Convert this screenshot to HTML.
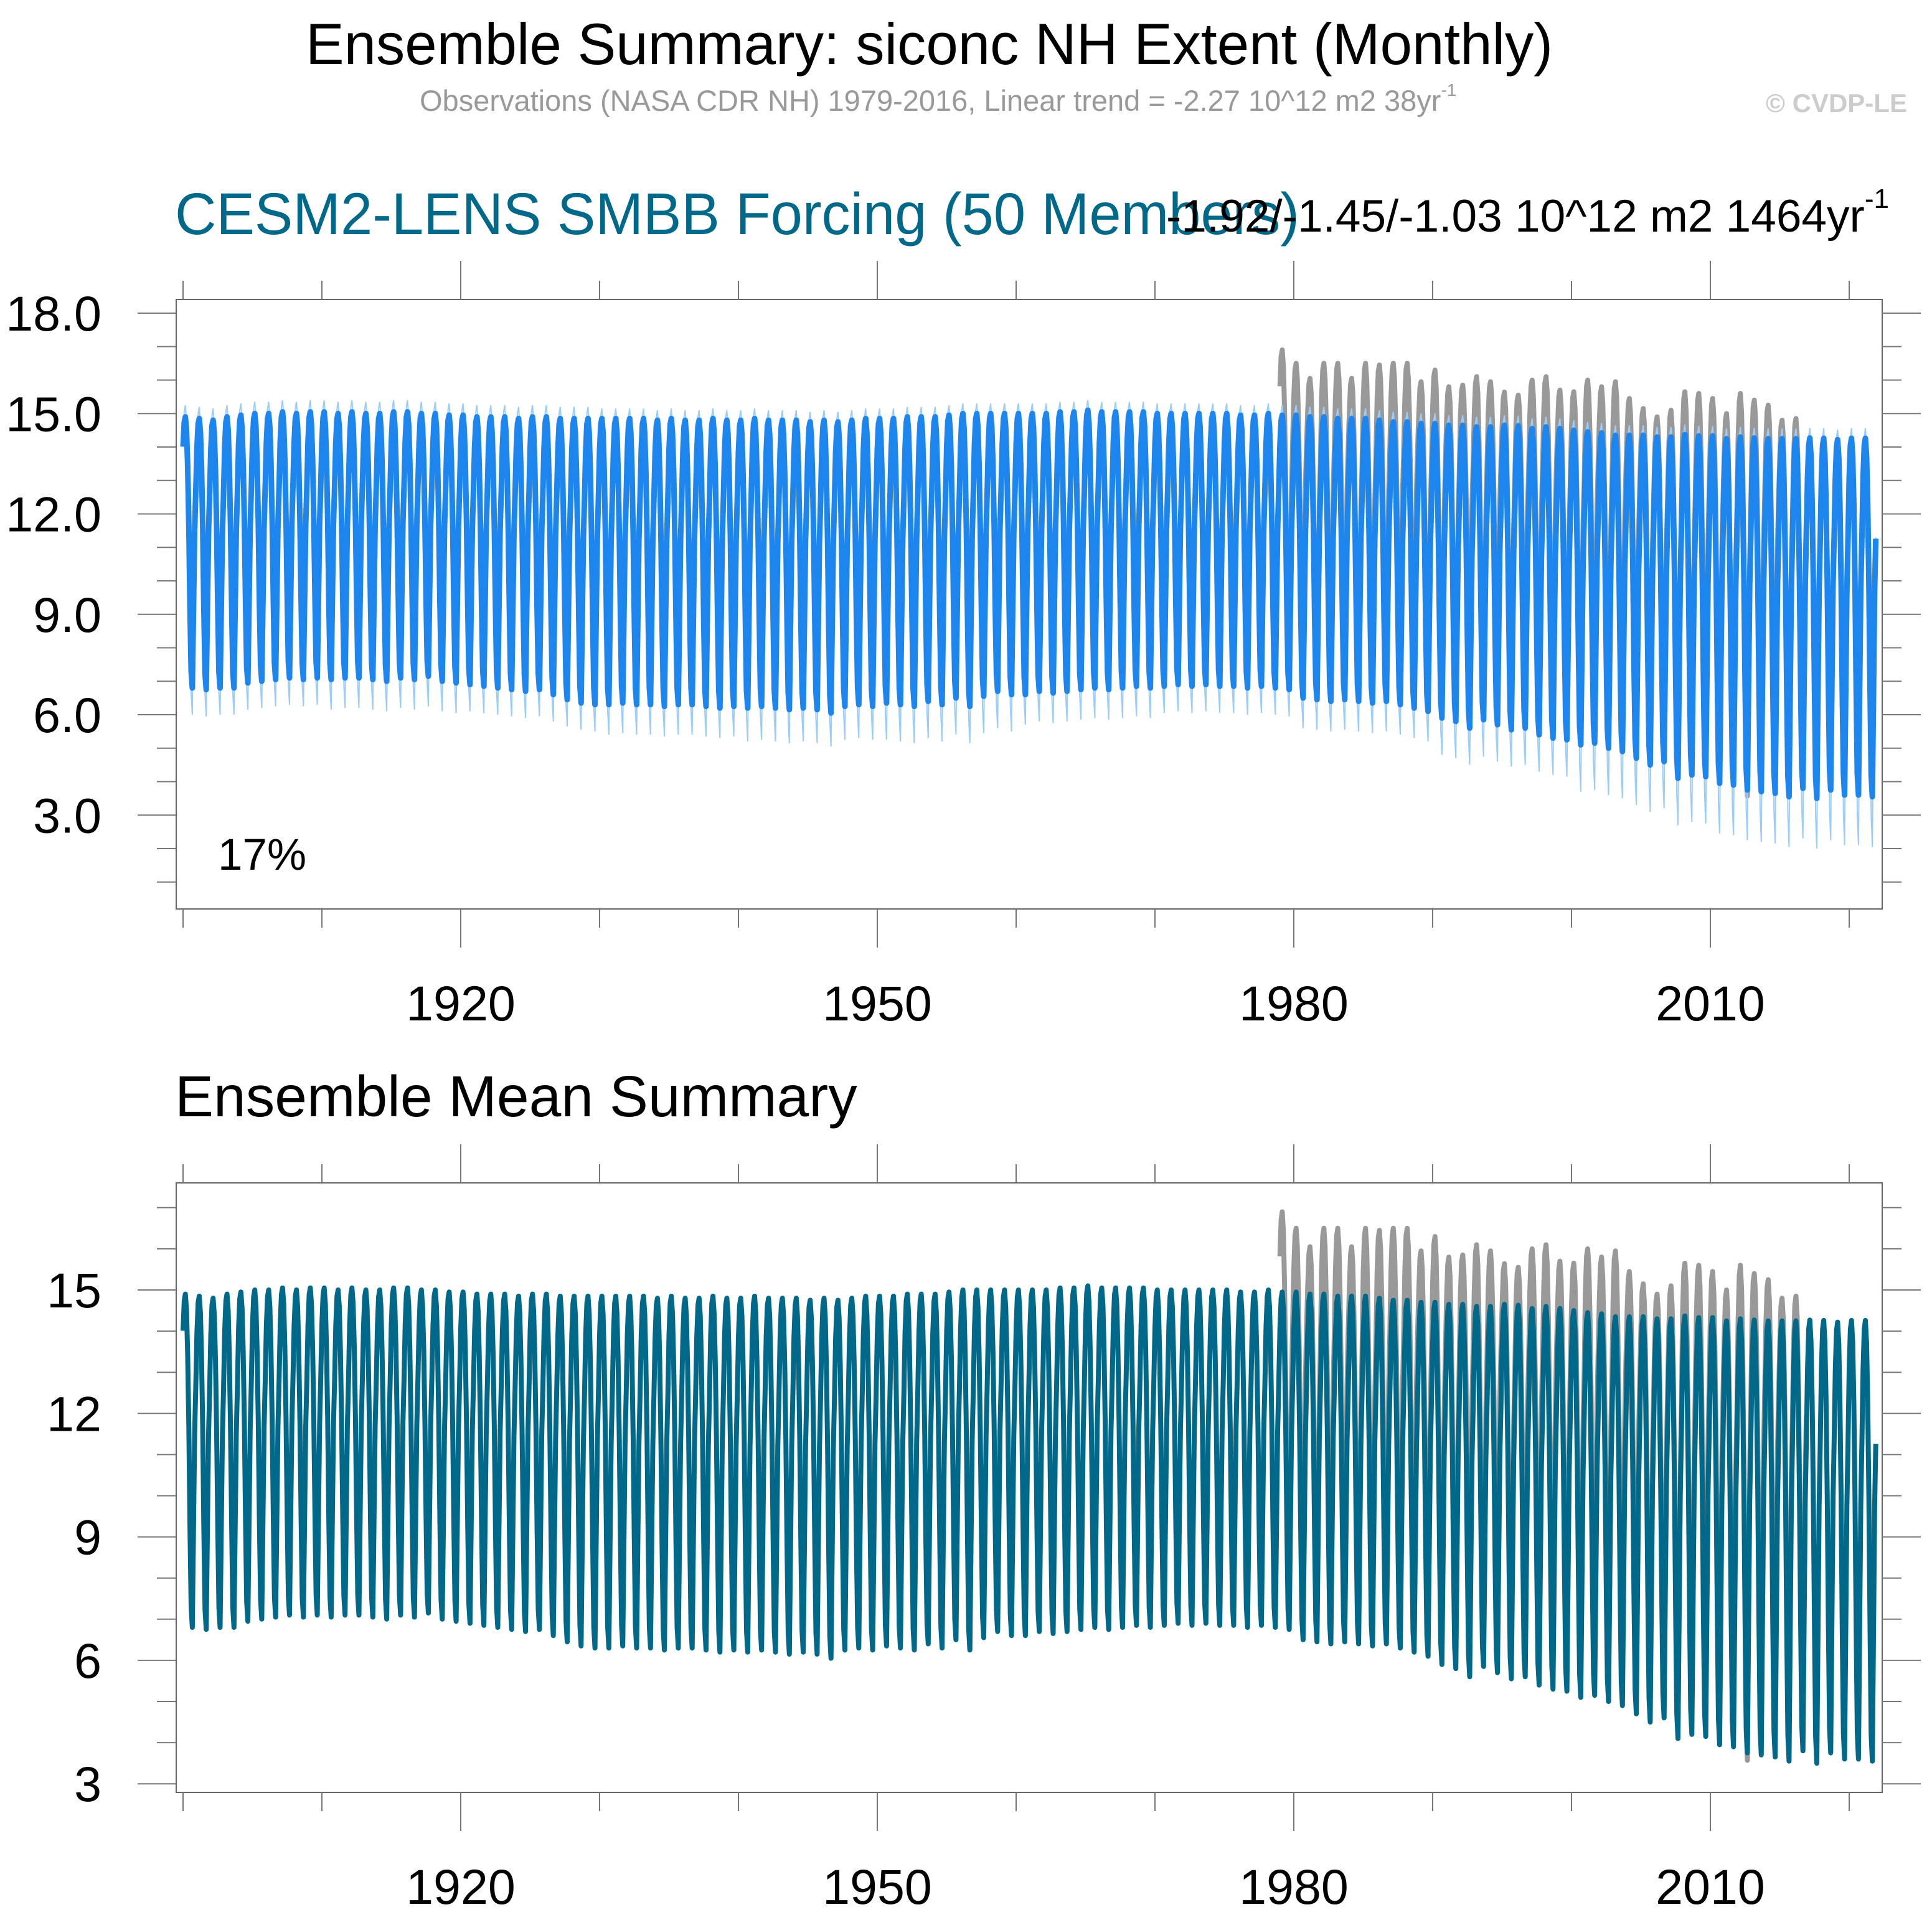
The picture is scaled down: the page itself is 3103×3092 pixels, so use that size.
<!DOCTYPE html>
<html><head><meta charset="utf-8">
<style>
html,body{margin:0;padding:0;background:#fff;}
svg{display:block;font-family:"Liberation Sans",Arial,sans-serif;}
</style></head>
<body>
<svg id="fig" width="3103" height="3092" viewBox="0 0 3103 3092" xmlns="http://www.w3.org/2000/svg">
<rect width="3103" height="3092" fill="#fff"/>
<text x="491" y="103" font-size="94" fill="#000" textLength="2003" lengthAdjust="spacingAndGlyphs">Ensemble Summary: siconc NH Extent (Monthly)</text>
<text x="674" y="178" font-size="47" fill="#999">Observations (NASA CDR NH) 1979-2016, Linear trend = -2.27 10^12 m2 38yr<tspan font-size="28" dy="-24">-1</tspan></text>
<text x="2836" y="180" font-size="42" font-weight="bold" fill="#ccc">© CVDP-LE</text>
<text x="281" y="376" font-size="95" fill="#00698a" textLength="1806" lengthAdjust="spacingAndGlyphs">CESM2-LENS SMBB Forcing (50 Members)</text>
<text x="1873" y="372" font-size="73" fill="#000">-1.92/-1.45/-1.03 10^12 m2 1464yr<tspan font-size="44" dy="-38">-1</tspan></text>
<text x="281" y="1793" font-size="93" fill="#000">Ensemble Mean Summary</text>
<g id="p1"></g>
<g id="p2"></g>
<text x="350" y="1397" font-size="71" fill="#000">17%</text>
</svg>
<script>
// ---- data ----
const years = []; for (let y = 1900; y <= 2021; y++) years.push(y);
const modelMax = [
14.9,14.85,14.8,14.9,14.95,15.0,15.0,15.05,15.0,15.05,
15.05,15.0,15.05,15.0,15.0,15.05,15.05,15.0,15.0,14.95,
14.95,14.9,14.9,14.9,14.85,14.9,14.9,14.85,14.85,14.85,
14.85,14.85,14.85,14.85,14.8,14.85,14.8,14.8,14.85,14.8,
14.8,14.85,14.8,14.8,14.8,14.75,14.8,14.75,14.8,14.85,
14.85,14.85,14.9,14.9,14.9,14.95,15.0,15.0,15.0,15.0,
15.0,15.0,15.0,15.05,15.05,15.1,15.05,15.05,15.05,15.05,
15.0,15.0,15.0,15.0,15.0,15.0,14.95,14.95,15.0,14.95,
14.95,14.9,14.9,14.85,14.85,14.85,14.8,14.75,14.75,14.7,
14.7,14.65,14.65,14.6,14.6,14.65,14.63,14.55,14.6,14.55,
14.5,14.45,14.42,14.35,14.35,14.35,14.3,14.3,14.37,14.33,
14.33,14.25,14.3,14.27,14.25,14.25,14.25,14.27,14.26,14.22,
14.26,14.26];
const modelMin = [
6.8,6.75,6.8,6.8,6.95,7.0,7.05,7.1,7.05,7.1,
7.05,7.1,7.1,7.05,7.0,7.1,7.05,7.15,7.0,6.95,
6.9,6.85,6.8,6.75,6.7,6.75,6.6,6.45,6.35,6.3,
6.3,6.35,6.3,6.3,6.25,6.3,6.3,6.25,6.2,6.25,
6.2,6.25,6.2,6.15,6.2,6.15,6.05,6.25,6.3,6.25,
6.35,6.3,6.25,6.4,6.3,6.5,6.25,6.55,6.7,6.6,
6.6,6.7,6.65,6.7,6.75,6.8,6.75,6.8,6.85,6.8,
6.85,6.9,6.85,6.9,6.85,6.85,6.8,6.85,6.8,6.75,
6.5,6.45,6.4,6.45,6.4,6.35,6.4,6.3,6.2,6.1,
5.9,5.8,5.6,5.85,5.7,5.55,5.6,5.4,5.3,5.25,
5.1,5.15,5.0,4.9,4.7,4.5,4.6,4.1,4.2,4.15,
3.95,3.9,3.75,3.7,3.65,3.55,3.8,3.5,3.75,3.6,
3.6,3.55];
const spreadDecades = [1900,1910,1920,1930,1940,1950,1960,1970,1980,1990,2000,2010,2020];
const spreadLow  = [0.8,0.9,0.8,0.9,1.0,1.1,0.9,0.8,0.9,1.1,1.4,1.5,1.5];
const spreadHigh = [0.35,0.35,0.35,0.3,0.3,0.3,0.3,0.3,0.3,0.3,0.3,0.3,0.3];
const obsYears = []; for (let y = 1979; y <= 2016; y++) obsYears.push(y);
const obsMax = [16.9,16.5,16.05,16.5,16.5,16.05,16.5,16.45,16.5,16.5,
15.95,16.3,15.8,15.85,16.1,15.95,15.64,15.55,16.0,16.1,
15.7,15.65,16.0,15.8,15.95,15.45,15.15,14.9,15.1,15.65,
15.6,15.45,15.0,15.6,15.4,15.25,14.8,14.85];
const obsMin = [7.05,7.67,7.14,7.3,7.39,6.81,6.7,7.41,7.28,7.37,
7.01,6.14,6.47,7.47,6.4,7.14,6.08,7.58,6.69,6.54,
6.12,6.25,6.73,5.83,6.12,5.98,5.5,5.86,4.27,4.69,
5.26,4.87,4.56,3.57,5.21,5.22,4.62,4.53];
const seasonShape = [0.89,0.98,1.0,0.95,0.82,0.6,0.3,0.06,0.0,0.28,0.58,0.72];
const p1Ticks = [3,6,9,12,15,18];
const p1TickLabels = ["3.0","6.0","9.0","12.0","15.0","18.0"];
const p2Ticks = [3,6,9,12,15];
const p2TickLabels = ["3","6","9","12","15"];
const yearTicks = [1920,1950,1980,2010];

// ---- geometry ----
const NS = "http://www.w3.org/2000/svg";
const X0 = 283, X1 = 3023;
const xOf = t => 294 + (t - 1900) * 22.3;
const P1 = {top:481, bot:1460, y:v => 503 + (18 - v) * 53.75, vmin:0.2, vmax:18.4, minor:1};
const P2 = {top:1900, bot:2879, y:v => 2072 + (15 - v) * 66.1, vmin:2.8, vmax:17.6, minor:1};

function el(parent, tag, attrs) {
  const e = document.createElementNS(NS, tag);
  for (const k in attrs) e.setAttribute(k, attrs[k]);
  parent.appendChild(e); return e;
}
function monthly(ys, mx, mn, offFn) {
  const pts = [];
  ys.forEach((yr, i) => {
    for (let m = 0; m < 12; m++) {
      const s = seasonShape[m];
      let v = mn[i] + s * (mx[i] - mn[i]);
      if (offFn) v += offFn(i, s, yr);
      pts.push([yr + m / 12, v]);
    }
  });
  return pts;
}
function pathD(pts, P) {
  return pts.map((p, i) => (i ? "L" : "M") + xOf(p[0]).toFixed(1) + " " + P.y(p[1]).toFixed(1)).join("");
}
function spreadIdx(yr) { return Math.min(spreadDecades.length - 1, Math.floor((yr - 1900) / 10)); }

function axes(g, P, ticks, labels, name) {
  const tc = "#777";
  const frame = el(g, "rect", {x:X0, y:P.top, width:X1 - X0, height:P.bot - P.top, fill:"none", stroke:"#666", "stroke-width":2});
  
  
  for (let v = Math.ceil(P.vmin); v <= P.vmax; v += P.minor) {
    const major = ticks.indexOf(v) >= 0;
    const len = major ? 62 : 31, y = P.y(v);
    const l = el(g, "line", {x1:X0 - len, x2:X0, y1:y, y2:y, stroke:tc, "stroke-width":2});
    
    
    const r = el(g, "line", {x1:X1, x2:X1 + len, y1:y, y2:y, stroke:tc, "stroke-width":2});
    
    
  }
  ticks.forEach((v, i) => {
    const t = el(g, "text", {x:163, y:P.y(v) + 28, "font-size":79, "text-anchor":"end", fill:"#000"});
    t.textContent = labels[i];
    
    
  });
  for (let yr = 1900; yr <= 2020; yr += 10) {
    const major = yearTicks.indexOf(yr) >= 0;
    const len = major ? 62 : 30, x = xOf(yr);
    const b = el(g, "line", {x1:x, x2:x, y1:P.bot, y2:P.bot + len, stroke:tc, "stroke-width":2});
    
    
    const t = el(g, "line", {x1:x, x2:x, y1:P.top - len, y2:P.top, stroke:tc, "stroke-width":2});
    
    
  }
  yearTicks.forEach(yr => {
    const t = el(g, "text", {x:xOf(yr), y:P.bot + 179, "font-size":79, "text-anchor":"middle", fill:"#000"});
    t.textContent = yr;
    
    
  });
}

// ---- panel 1 ----
const g1 = document.getElementById("p1");
axes(g1, P1, p1Ticks, p1TickLabels, "panel1");
const obs1 = el(g1, "path", {d:pathD(monthly(obsYears, obsMax, obsMin), P1), fill:"none", stroke:"#999", "stroke-width":8, "stroke-linejoin":"round"});


const lo = monthly(years, modelMax, modelMin, (i, s, yr) => -spreadLow[spreadIdx(yr)] * Math.pow(1 - s, 4));
const hi = monthly(years, modelMax, modelMin, (i, s, yr) => spreadHigh[spreadIdx(yr)] * Math.pow(s, 6));
const envLo = el(g1, "path", {d:pathD(lo, P1), fill:"none", stroke:"#9ccdf8", "stroke-width":2});


const envHi = el(g1, "path", {d:pathD(hi, P1), fill:"none", stroke:"#9ccdf8", "stroke-width":2});


const band = el(g1, "path", {d:pathD(monthly(years, modelMax, modelMin), P1), fill:"none", stroke:"#1c86ee", "stroke-width":9, "stroke-linejoin":"round"});



// ---- panel 2 ----
const g2 = document.getElementById("p2");
axes(g2, P2, p2Ticks, p2TickLabels, "panel2");
const obs2 = el(g2, "path", {d:pathD(monthly(obsYears, obsMax, obsMin), P2), fill:"none", stroke:"#999", "stroke-width":8, "stroke-linejoin":"round"});


const mean2 = el(g2, "path", {d:pathD(monthly(years, modelMax, modelMin), P2), fill:"none", stroke:"#00698a", "stroke-width":8, "stroke-linejoin":"round"});


</script>
</body></html>
